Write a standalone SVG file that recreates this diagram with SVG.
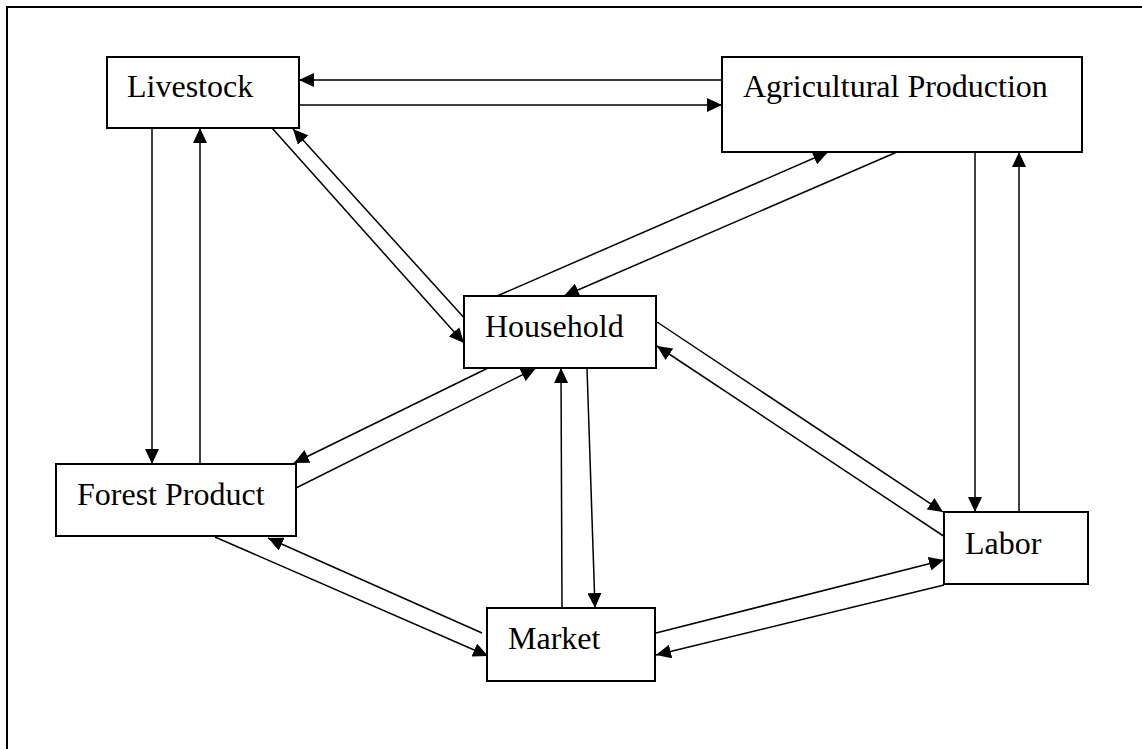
<svg xmlns="http://www.w3.org/2000/svg" width="1142" height="749" viewBox="0 0 1142 749">
<style>
.box{fill:#fff;stroke:#000;stroke-width:2}
.lbl{font-family:"Liberation Serif","Times New Roman",serif;font-size:32px;fill:#000}
.c{stroke:#000;stroke-width:1.5;fill:none}
.a{marker-end:url(#ah)}
</style>
<defs>
<marker id="ah" markerUnits="userSpaceOnUse" markerWidth="16" markerHeight="14" refX="15" refY="7" orient="auto" viewBox="0 0 16 14">
<path d="M0,0 L15,7 L0,14 z" fill="#000"/>
</marker>
</defs>
<rect width="1142" height="749" fill="#fff"/>
<path d="M7,749 V7 H1142" fill="none" stroke="#000" stroke-width="2"/>
<g id="connectors">
<line class="c a" x1="722" y1="80" x2="299" y2="80"/>
<line class="c a" x1="296" y1="105" x2="722" y2="105"/>
<line class="c a" x1="152" y1="128" x2="152" y2="464"/>
<line class="c a" x1="200" y1="464" x2="200" y2="128"/>
<line class="c a" x1="272" y1="128" x2="464" y2="343"/>
<line class="c a" x1="467" y1="321" x2="293" y2="129"/>
<line class="c a" x1="497" y1="296" x2="828" y2="152"/>
<line class="c a" x1="897" y1="152" x2="564" y2="296"/>
<line class="c a" x1="488" y1="368" x2="294" y2="463"/>
<line class="c a" x1="296" y1="488" x2="536" y2="368"/>
<line class="c a" x1="562" y1="608" x2="561" y2="368"/>
<line class="c a" x1="587" y1="368" x2="595" y2="608"/>
<line class="c a" x1="215" y1="537" x2="488" y2="656"/>
<line class="c a" x1="482" y1="633" x2="268" y2="538"/>
<line class="c a" x1="656" y1="633" x2="944" y2="560"/>
<line class="c a" x1="944" y1="585" x2="656" y2="655"/>
<line class="c a" x1="975" y1="152" x2="975" y2="512"/>
<line class="c a" x1="1019" y1="512" x2="1019" y2="152"/>
<line class="c a" x1="657" y1="322" x2="943" y2="512"/>
<line class="c a" x1="945" y1="537" x2="657" y2="346"/>
</g>
<g id="livestock">
<rect class="box" x="107" y="57" width="192" height="71"/>
<text class="lbl" x="127" y="97">Livestock</text>
</g>
<g id="agricultural-production">
<rect class="box" x="722" y="57" width="360" height="95"/>
<text class="lbl" x="743" y="97">Agricultural Production</text>
</g>
<g id="household">
<rect class="box" x="464" y="296" width="192" height="72"/>
<text class="lbl" x="485" y="337">Household</text>
</g>
<g id="forest-product">
<rect class="box" x="56" y="464" width="240" height="72"/>
<text class="lbl" x="77" y="505">Forest Product</text>
</g>
<g id="market">
<rect class="box" x="487" y="608" width="168" height="73"/>
<text class="lbl" x="508" y="649">Market</text>
</g>
<g id="labor">
<rect class="box" x="944" y="512" width="144" height="72"/>
<text class="lbl" x="965" y="554">Labor</text>
</g>
</svg>
